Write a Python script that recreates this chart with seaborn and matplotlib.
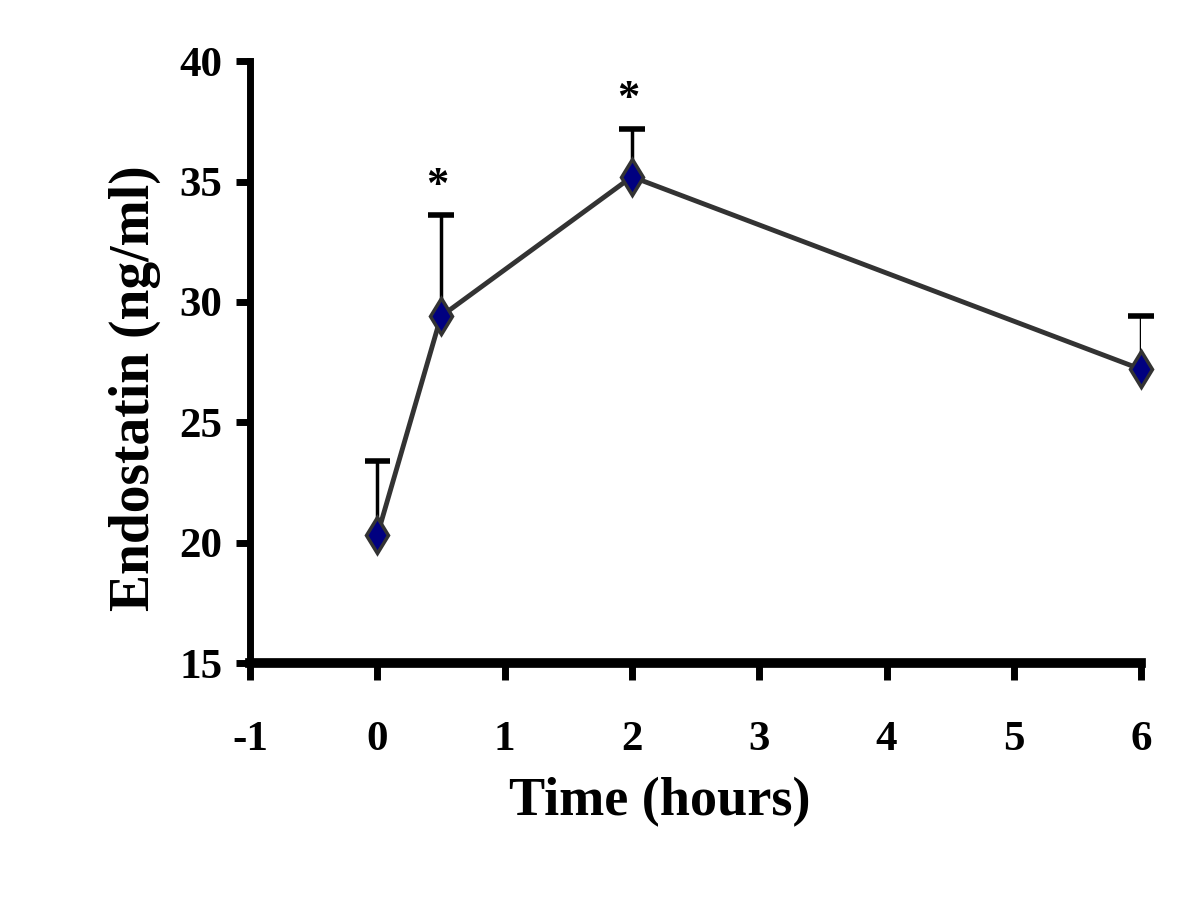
import matplotlib
matplotlib.use("Agg")
import matplotlib.pyplot as plt
import seaborn as sns
import pandas as pd

# values
time_h = [0, 0.5, 2, 6]
endostatin = [20.3, 29.4, 35.2, 27.2]
sem_upper = [3.1, 4.2, 2.0, 2.2]
significant = [False, True, True, False]

x_ticks = [-1, 0, 1, 2, 3, 4, 5, 6]
y_ticks = [15, 20, 25, 30, 35, 40]

df = pd.DataFrame({"time": time_h, "endo": endostatin, "err": sem_upper, "sig": significant})

sns.set_style("ticks")
plt.rcParams["font.family"] = ["Liberation Serif", "DejaVu Serif"]
plt.rcParams["font.weight"] = "bold"
plt.rcParams["text.color"] = "black"
plt.rcParams["axes.labelcolor"] = "black"
plt.rcParams["xtick.color"] = "black"
plt.rcParams["ytick.color"] = "black"
plt.rcParams["axes.edgecolor"] = "black"

fig = plt.figure(figsize=(12, 9), dpi=100)
ax = fig.add_axes([0.2083, 0.2633, 0.7427, 0.6687])

# upper error bars only (stem + cap)
cap = 0.1
ax.vlines(df["time"], df["endo"], df["endo"] + df["err"], color="black", linewidth=2.5, zorder=1)
ax.hlines(df["endo"] + df["err"], df["time"] - cap, df["time"] + cap, color="black",
          linewidth=4, zorder=1, clip_on=False)

sns.lineplot(data=df, x="time", y="endo", ax=ax, color="#333333", linewidth=3.5,
             marker="d", markersize=18, markerfacecolor="#000080",
             markeredgecolor="#333333", markeredgewidth=2.5, zorder=2, clip_on=False)

for _, r in df[df["sig"]].iterrows():
    ax.text(r["time"] - 0.03, r["endo"] + r["err"] + 0.4, "*", ha="center", va="bottom",
            fontsize=32, fontweight="bold", color="black")

ax.set_xlim(-1, 6)
ax.set_ylim(15, 40)
ax.set_xticks(x_ticks)
ax.set_yticks(y_ticks)
ax.set_xticklabels([str(t) for t in x_ticks], fontsize=31, fontweight="bold")
ax.set_yticklabels([str(t) for t in y_ticks], fontsize=31, fontweight="bold")

ax.set_xlabel("Time (hours)", fontsize=39, fontweight="bold")
ax.set_ylabel("Endostatin (ng/ml)", fontsize=40, fontweight="bold")
ax.xaxis.set_label_coords(0.46, -0.19)
ax.yaxis.set_label_coords(-0.10, 0.457)

sns.despine(ax=ax)
ax.spines["left"].set_linewidth(5)
ax.spines["bottom"].set_linewidth(7)
ax.tick_params(axis="x", direction="out", length=12, width=5, pad=30)
ax.tick_params(axis="y", direction="out", length=10, width=5, pad=10)

fig.savefig("out.png", dpi=100, facecolor="white")
